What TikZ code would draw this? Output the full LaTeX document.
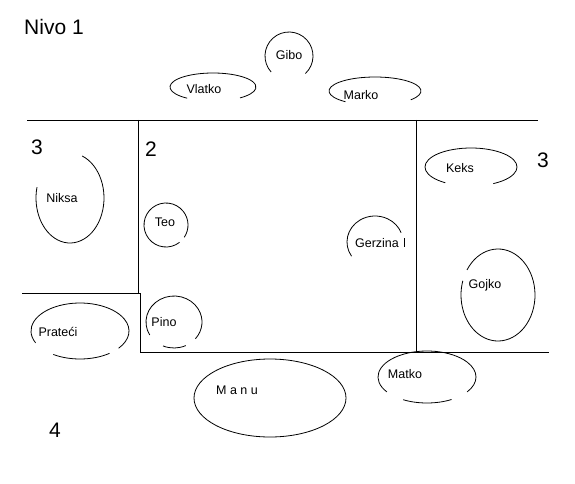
\documentclass[tikz,border=0pt]{standalone}
\usepackage{fontspec}
\setmainfont{Liberation Sans}
\begin{document}
\begin{tikzpicture}[x=1pt,y=-1pt,line width=0.8pt,
  guest/.style={inner sep=0pt,font=\fontsize{12.5}{15}\selectfont},
  zone/.style={inner sep=0pt,font=\fontsize{21}{25}\selectfont}]
\useasboundingbox (0,0) rectangle (575,484);
\node[zone] (nivo) at (54,27) {Nivo 1};
\node[zone] (z3l) at (37,147) {3};
\node[zone] (z2) at (151,149) {2};
\node[zone] (z3r) at (543,160) {3};
\node[zone] (z4) at (55,430) {4};
\node[guest] (gibo) at (289,55) {Gibo};
\node[guest] (vlatko) at (204,89) {Vlatko};
\node[guest] (marko) at (361,95) {Marko};
\node[guest] (niksa) at (62,198) {Niksa};
\node[guest] (teo) at (165,222) {Teo};
\node[guest] (gerzina) at (377,243) {Gerzina};
\node[guest] (keks) at (460,168) {Keks};
\node[guest] (gojko) at (485,285) {Gojko};
\node[guest] (prateci) at (58,332) {Prateći};
\node[guest] (pino) at (164,322) {Pino};
\node[guest] (manu) at (237,390) {M a n u};
\node[guest] (matko) at (405,374) {Matko};
\draw (27,120) -- (538,120);
\draw (138,120) -- (138,293);
\draw (22,293) -- (140,293) -- (140,352) -- (549,352);
\draw (416,120) -- (416,352);
\draw (289,56) ++(138:24) arc[start angle=138,end angle=407,radius=24];
\draw (213,87) ++(127:43 and 14) arc[start angle=127,end angle=411,x radius=43,y radius=14];
\draw (375,91) ++(130:46 and 14) arc[start angle=130,end angle=399,x radius=46,y radius=14];
\draw (70,198) ++(-69:34 and 45) arc[start angle=-69,end angle=194,x radius=34,y radius=45];
\draw (166,225) ++(52:22) arc[start angle=52,end angle=394,radius=22];
\draw (375,242) ++(147:28 and 26) arc[start angle=147,end angle=339,x radius=28,y radius=26];
\draw (404,238) -- (404,247);
\draw (471,167) ++(124:46 and 19) arc[start angle=124,end angle=421,x radius=46,y radius=19];
\draw (498,295) ++(213:37 and 46) arc[start angle=213,end angle=558,x radius=37,y radius=46];
\draw (80,331) ++(155:49 and 28) arc[start angle=155,end angle=398,x radius=49,y radius=28];
\draw (80,331) ++(53:49 and 28) arc[start angle=53,end angle=123,x radius=49,y radius=28];
\draw (174,322) ++(150:28 and 26) arc[start angle=150,end angle=400,x radius=28,y radius=26];
\draw (174,322) ++(65:28 and 26) arc[start angle=65,end angle=113,x radius=28,y radius=26];
\draw (270,398) ellipse[x radius=76,y radius=39];
\draw (427,377) ++(145:49 and 26) arc[start angle=145,end angle=395,x radius=49,y radius=26];
\draw (427,377) ++(60:49 and 26) arc[start angle=60,end angle=119,x radius=49,y radius=26];
\end{tikzpicture}
\end{document}
